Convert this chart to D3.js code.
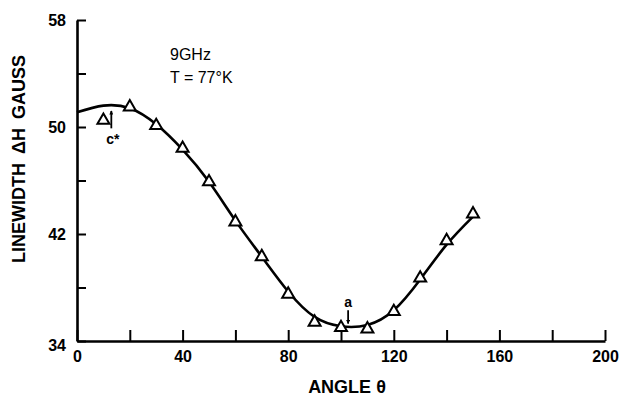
<!DOCTYPE html>
<html>
<head>
<meta charset="utf-8">
<script src="https://cdn.jsdelivr.net/npm/d3@7"></script>
<style>
  body { margin: 0; background: #fff; }
  svg text { font-family: "Liberation Sans", Arial, sans-serif; fill: #000; }
</style>
</head>
<body>
<div id="chart"></div>
<script>
// measured points (triangles)
var angles = [10, 20, 30, 40, 50, 60, 70, 80, 90, 100, 110, 120, 130, 140, 150];
var linewidths = [50.5, 51.5, 50.1, 48.4, 45.9, 42.9, 40.3, 37.5, 35.4, 35.0, 34.9, 36.2, 38.7, 41.5, 43.5];

// fitted curve
var curveAngles = [0, 10, 20, 30, 40, 50, 60, 70, 80, 90, 100, 110, 120, 130, 140, 150];
var curveWidths = [51.1, 51.6, 51.4, 50.2, 48.3, 45.9, 43.0, 40.3, 37.7, 35.8, 35.1, 35.2, 36.3, 38.6, 41.2, 43.3];

var xTicks = [0, 20, 40, 60, 80, 100, 120, 140, 160, 180, 200];
var xLabels = [0, 40, 80, 120, 160, 200];
var yTicks = [34, 38, 42, 46, 50, 54, 58];
var yLabels = [34, 42, 50, 58];

var width = 622, height = 396;

var svg = d3.select('#chart').append('svg')
  .attr('width', width)
  .attr('height', height);

var x = d3.scaleLinear().domain([0, 200]).range([77, 605]);
var y = d3.scaleLinear().domain([34, 58]).range([341, 20]);

// x axis, ticks pointing up into the plot
var xAxis = d3.axisBottom(x)
  .tickValues(xTicks)
  .tickSizeInner(-11)
  .tickSizeOuter(0)
  .tickPadding(10)
  .tickFormat(function(d) { return xLabels.indexOf(d) !== -1 ? d : ''; });

var gx = svg.append('g')
  .attr('transform', 'translate(0,' + y(34) + ')')
  .call(xAxis);

gx.select('.domain').attr('stroke', '#000').attr('stroke-width', 2.6);
gx.selectAll('.tick line').attr('stroke', '#000').attr('stroke-width', 2);
gx.selectAll('.tick text')
  .attr('font-size', 16)
  .attr('font-family', 'Liberation Sans, Arial, sans-serif')
  .attr('font-weight', 'bold')
  .attr('dy', '0.71em')
  .attr('y', 10);

// y axis, ticks pointing right
var yAxis = d3.axisLeft(y)
  .tickValues(yTicks)
  .tickSizeInner(-9)
  .tickSizeOuter(0)
  .tickPadding(11)
  .tickFormat(function(d) { return yLabels.indexOf(d) !== -1 ? d : ''; });

var gy = svg.append('g')
  .attr('transform', 'translate(' + x(0) + ',0)')
  .call(yAxis);

gy.select('.domain').attr('stroke', '#000').attr('stroke-width', 2.6);
gy.selectAll('.tick line').attr('stroke', '#000').attr('stroke-width', 2);
gy.selectAll('.tick text')
  .attr('font-size', 16)
  .attr('font-family', 'Liberation Sans, Arial, sans-serif')
  .attr('font-weight', 'bold');
gy.selectAll('.tick').filter(function(d) { return d === 34; })
  .select('text').attr('dy', '0.6em');

// axis titles
svg.append('text')
  .attr('x', 347)
  .attr('y', 393)
  .attr('text-anchor', 'middle')
  .attr('font-size', 18)
  .attr('font-weight', 'bold')
  .text('ANGLE θ');

svg.append('text')
  .attr('transform', 'translate(25,159) rotate(-90)')
  .attr('text-anchor', 'middle')
  .attr('font-size', 18)
  .attr('font-weight', 'bold')
  .attr('word-spacing', 4)
  .text('LINEWIDTH ΔH GAUSS');

// condition labels
svg.append('text')
  .attr('x', 170).attr('y', 60)
  .attr('font-size', 16)
  .text('9GHz');
svg.append('text')
  .attr('x', 170).attr('y', 83)
  .attr('font-size', 16)
  .text('T = 77°K');

// fitted curve
var line = d3.line()
  .curve(d3.curveNatural)
  .x(function(d, i) { return x(curveAngles[i]); })
  .y(function(d) { return y(d); });

svg.append('path')
  .attr('d', line(curveWidths))
  .attr('fill', 'none')
  .attr('stroke', '#000')
  .attr('stroke-width', 2.6);

// data triangles
svg.selectAll('.pt')
  .data(angles)
  .enter().append('path')
  .attr('class', 'pt')
  .attr('d', d3.symbol().type(d3.symbolTriangle).size(62))
  .attr('transform', function(d, i) {
    return 'translate(' + x(d) + ',' + y(linewidths[i]) + ')';
  })
  .attr('fill', '#fff')
  .attr('stroke', '#000')
  .attr('stroke-width', 2);

// arrows for crystal axes
var defs = svg.append('defs');
defs.append('marker')
  .attr('id', 'head')
  .attr('viewBox', '0 0 10 10')
  .attr('refX', 9).attr('refY', 5)
  .attr('markerWidth', 5).attr('markerHeight', 4)
  .attr('markerUnits', 'userSpaceOnUse')
  .attr('orient', 'auto')
  .append('path')
  .attr('d', 'M0,0 L10,5 L0,10 z')
  .attr('fill', '#000');

function arrow(a, from, to) {
  svg.append('line')
    .attr('x1', x(a)).attr('x2', x(a))
    .attr('y1', y(from)).attr('y2', y(to))
    .attr('stroke', '#000')
    .attr('stroke-width', 1.8)
    .attr('marker-end', 'url(#head)');
}

arrow(13, 49.9, 51.2);
arrow(102.7, 36.3, 35.3);

svg.append('text')
  .attr('x', x(13) - 5).attr('y', 144)
  .attr('font-size', 14)
  .attr('font-weight', 'bold')
  .text('c*');

svg.append('text')
  .attr('x', x(102.7)).attr('y', 307)
  .attr('text-anchor', 'middle')
  .attr('font-size', 14)
  .attr('font-weight', 'bold')
  .text('a');
</script>
</body>
</html>
